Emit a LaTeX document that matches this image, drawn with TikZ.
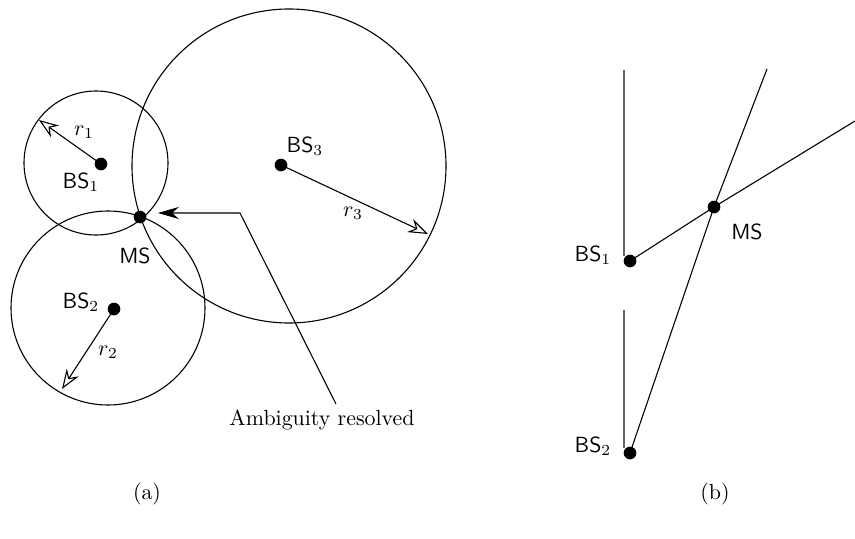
\documentclass[tikz,border=0pt]{standalone}
\usetikzlibrary{arrows.meta}
\begin{document}
\begin{tikzpicture}[x=0.4566pt,y=-0.4566pt,
  line width=0.5pt,
  dot/.style={circle,fill=black,inner sep=0pt,minimum size=5.8pt},
  lbl/.style={inner sep=0pt,font=\sffamily},
  mlbl/.style={inner sep=0pt},
  openarr/.style={-{Stealth[open,fill=white,length=9pt,width=6.5pt,inset=3pt]}},
  fillarr/.style={-{Stealth[length=9.5pt,width=5.5pt,inset=3pt]}},
  guide/.style={draw=black!60,line width=0.6pt}]
\useasboundingbox (0,0) rectangle (855,539);
% ---------- (a) ----------
\coordinate (c1) at (96,163);
\coordinate (c2) at (108,308);
\coordinate (c3) at (289,166);
\draw (c1) circle [radius=72];
\draw (c2) circle [radius=97];
\draw (c3) circle [radius=157];
\node[dot] (b1) at (101,164) {};
\node[dot] (b2) at (114,309) {};
\node[dot] (b3) at (281,165) {};
\node[dot] (ms) at (140,217) {};
\coordinate (r1e) at (39,120);
\coordinate (r2e) at (62,389);
\coordinate (r3e) at (428,234);
\draw[openarr] (b1.center) -- (r1e);
\draw[openarr] (b2.center) -- (r2e);
\draw[openarr] (b3.center) -- (r3e);
\node[lbl] (lb1) at (81,182) {BS$_1$};
\node[lbl] (lb2) at (81,302) {BS$_2$};
\node[lbl] (lb3) at (305,146) {BS$_3$};
\node[lbl] (lms) at (135,256) {MS};
\node[mlbl] (lr1) at (84,132) {$r_1$};
\node[mlbl] (lr2) at (108,352) {$r_2$};
\node[mlbl] (lr3) at (353,213) {$r_3$};
\node[mlbl] (amb) at (322,420) {Ambiguity resolved};
\coordinate (as) at (336,404);
\coordinate (ak) at (240,213);
\coordinate (at) at (158,213);
\draw[fillarr] (as) -- (ak) -- (at);
\node[mlbl] (capa) at (147,494) {(a)};
% ---------- (b) ----------
\node[dot] (p1) at (630,261) {};
\node[dot] (p2) at (630,453) {};
\node[dot] (pm) at (714,207) {};
\coordinate (e1) at (855,121);
\coordinate (e2) at (767,69);
\coordinate (g1a) at (624,70);
\coordinate (g1b) at (624,256);
\coordinate (g2a) at (624,310);
\coordinate (g2b) at (624,448);
\draw[guide] (g1a) -- (g1b);
\draw[guide] (g2a) -- (g2b);
\draw (p1.center) -- (pm.center) -- (e1);
\draw (p2.center) -- (pm.center) -- (e2);
\node[lbl] (lp1) at (593,255) {BS$_1$};
\node[lbl] (lp2) at (593,446) {BS$_2$};
\node[lbl] (lpm) at (747,232) {MS};
\node[mlbl] (capb) at (715,494) {(b)};
\end{tikzpicture}
\end{document}
